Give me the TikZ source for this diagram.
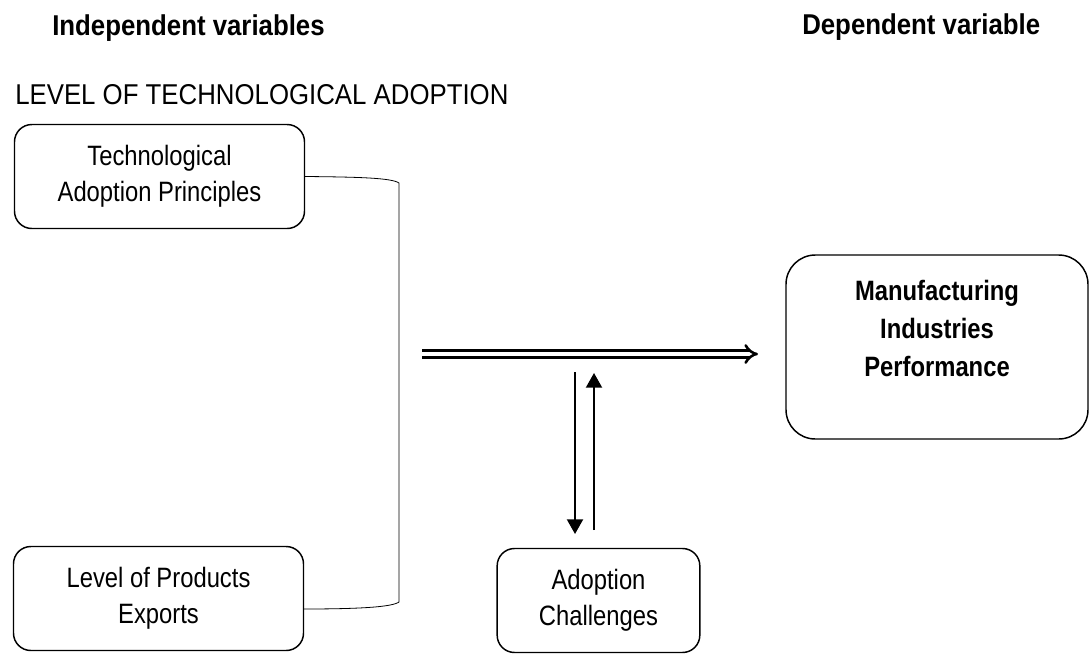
\documentclass[tikz,border=0pt]{standalone}
\usepackage{fontspec}
\newfontfamily\headfont{Liberation Sans}[FakeStretch=0.9]
\newfontfamily\boxfont{Liberation Sans}[FakeStretch=0.85]
\usetikzlibrary{arrows.meta}
\tikzset{
  heading/.style={inner sep=0pt, font=\headfont\fontsize{21.5}{25}\selectfont},
  varbox/.style={draw, line width=1.1pt, rounded corners=13pt, align=center,
    minimum width=217.5pt, minimum height=78pt,
    font=\boxfont\fontsize{21}{27}\selectfont},
  linkarrow/.style={line width=1.5pt, -{Triangle[width=12pt,length=11pt]}}
}
\begin{document}
\begin{tikzpicture}[x=0.75pt,y=-0.75pt]
    \useasboundingbox (0,0) rectangle (1089,654);

    \node[heading, anchor=base west, font=\headfont\bfseries\fontsize{21.5}{25}\selectfont] (indep) at (52,35) {Independent variables};
    \node[heading, anchor=base west, font=\headfont\bfseries\fontsize{21.5}{25}\selectfont] (dep) at (802,34) {Dependent variable};
    \node[heading, anchor=base west] (level) at (15,104) {LEVEL OF TECHNOLOGICAL ADOPTION};

    \node[varbox] (tap) at (159.5,176.5) {Technological\\Adoption Principles};
    \node[varbox] (lpe) at (158.5,598.5) {Level of Products\\Exports};
    \node[varbox, minimum width=152pt] (adc) at (598.5,600.5) {Adoption\\Challenges};
    \node[varbox, rounded corners=22pt, minimum width=226.5pt, minimum height=138pt] (mip) at (937,347) {};
    \node[font=\boxfont\bfseries\fontsize{21}{28.5}\selectfont, align=center] (miptext) at (937,328) {Manufacturing\\Industries\\Performance};

    %% bracket joining the two independent variables
    \coordinate (jb) at (303,609);
    \draw[line width=0.6pt] (tap.east) .. controls (360,177) and (392,178) .. (399,183) -- (399,602)
        .. controls (392,607) and (360,609) .. (jb);

    \coordinate (hs) at (422,354);
    \coordinate (he) at (758,354);
    \draw[double, double distance=3pt, line width=1.9pt, -{Implies}] (hs) -- (he);

    \coordinate (dtop) at (575,372);
    \coordinate (dbot) at (575,534);
    \coordinate (ubot) at (594,530);
    \coordinate (utop) at (594,373);
    \draw[linkarrow] (dtop) -- (dbot);
    \draw[linkarrow] (ubot) -- (utop);
\end{tikzpicture}
\end{document}
